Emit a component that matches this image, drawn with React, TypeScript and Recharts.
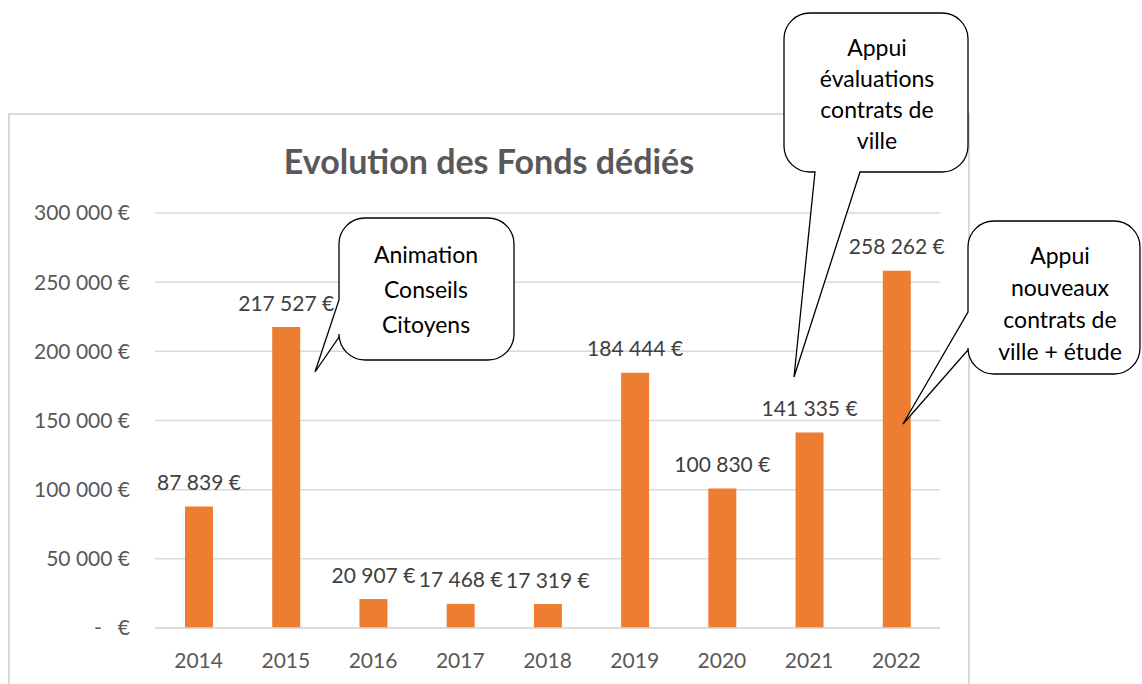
import React from "react";
import { BarChart, Bar, XAxis, YAxis, CartesianGrid, LabelList } from "recharts";

const YEARS = ["2014", "2015", "2016", "2017", "2018", "2019", "2020", "2021", "2022"];
const FUNDS = [87839, 217527, 20907, 17468, 17319, 184444, 100830, 141335, 258262];
const Y_TICKS = [0, 50000, 100000, 150000, 200000, 250000, 300000];
const TITLE = "Evolution des Fonds dédiés";

const NOTE_CCIT = ["Animation", "Conseils", "Citoyens"];
const NOTE_EVAL = ["Appui", "évaluations", "contrats de", "ville"];
const NOTE_NEW = ["Appui", "nouveaux", "contrats de", "ville + étude"];

const FONT = "Lato, 'Open Sans', sans-serif";
const ORANGE = "#ED7D31";
const GRID = "#d9d9d9";

const rows = YEARS.map((year, i) => ({ year, value: FUNDS[i] }));

function euro(v: number) {
  if (v === 0) return "-\u00a0\u00a0\u00a0€";
  return String(v).replace(/\B(?=(\d{3})+(?!\d))/g, " ") + " €";
}

// value label above the bar, no wrapping
function ValueLabel(props: any) {
  const { x, y, width, value } = props;
  return (
    <text x={Number(x) + Number(width) / 2} y={Number(y) - 25} textAnchor="middle" dominantBaseline="central"
      fontFamily={FONT} fontSize={21} fill="#404040">
      {euro(Number(value))}
    </text>
  );
}

// rounded box with a pointer cut into one of its sides
function bubblePath(
  x: number, y: number, w: number, h: number, r: number,
  side: "left" | "bottom", a: number, b: number, tx: number, ty: number
) {
  const top = `M ${x + r} ${y} H ${x + w - r} A ${r} ${r} 0 0 1 ${x + w} ${y + r} V ${y + h - r} A ${r} ${r} 0 0 1 ${x + w - r} ${y + h}`;
  if (side === "bottom") {
    return `${top} H ${b} L ${tx} ${ty} L ${a} ${y + h} H ${x + r} A ${r} ${r} 0 0 1 ${x} ${y + h - r} V ${y + r} A ${r} ${r} 0 0 1 ${x + r} ${y} Z`;
  }
  return `${top} H ${x + r} A ${r} ${r} 0 0 1 ${x} ${y + h - r} V ${b} L ${tx} ${ty} L ${x} ${a} V ${y + r} A ${r} ${r} 0 0 1 ${x + r} ${y} Z`;
}

function Note({ d, lines, cx, y0, step }: { d: string; lines: string[]; cx: number; y0: number; step: number }) {
  return (
    <g>
      <path d={d} fill="#fff" stroke="#000" strokeWidth={1.3} />
      {lines.map((t, i) => (
        <text key={t} x={cx} y={y0 + i * step} textAnchor="middle" dominantBaseline="central"
          fontFamily={FONT} fontSize={23} fill="#000">
          {t}
        </text>
      ))}
    </g>
  );
}

export default function App() {
  return (
    <div style={{ position: "absolute", left: 0, top: 0, width: 1142, height: 684, background: "#fff", overflow: "hidden" }}>
      <div style={{ position: "absolute", left: 8, top: 113, width: 962, height: 620, border: `2px solid ${GRID}`, boxSizing: "border-box" }} />
      <div style={{ position: "absolute", left: 0, top: 0 }}>
        <BarChart width={1142} height={684} data={rows} margin={{ top: 213, right: 202, bottom: 16, left: 0 }}>
          <CartesianGrid vertical={false} stroke={GRID} strokeWidth={1.5} />
          <XAxis dataKey="year" height={40} axisLine={{ stroke: GRID, strokeWidth: 1.5 }} tickLine={false}
            tickSize={0} tickMargin={25} tick={{ fill: "#595959", fontSize: 21, fontFamily: FONT }} />
          <YAxis width={155} domain={[0, 300000]} ticks={Y_TICKS} tickFormatter={euro} axisLine={false}
            tickLine={false} tickSize={0} tickMargin={25} tick={{ fill: "#595959", fontSize: 21, fontFamily: FONT }} />
          <Bar dataKey="value" fill={ORANGE} barSize={28} isAnimationActive={false}>
            <LabelList dataKey="value" content={ValueLabel} />
          </Bar>
        </BarChart>
      </div>
      <svg width={1142} height={684} style={{ position: "absolute", left: 0, top: 0, pointerEvents: "none" }}>
        <text x={489} y={160} textAnchor="middle" dominantBaseline="central" fontFamily={FONT}
          fontWeight="bold" fontSize={34} fill="#595959">
          {TITLE}
        </text>
        <Note d={bubblePath(339, 218, 175, 142, 26, "left", 300, 337, 315, 372)} lines={NOTE_CCIT} cx={426} y0={254} step={35} />
        <Note d={bubblePath(784, 13, 184, 159, 26, "bottom", 815, 860, 794, 377)} lines={NOTE_EVAL} cx={877} y0={47} step={31} />
        <Note d={bubblePath(968, 221, 172, 153, 26, "left", 312, 350, 903, 424)} lines={NOTE_NEW} cx={1060} y0={255} step={32} />
      </svg>
    </div>
  );
}
